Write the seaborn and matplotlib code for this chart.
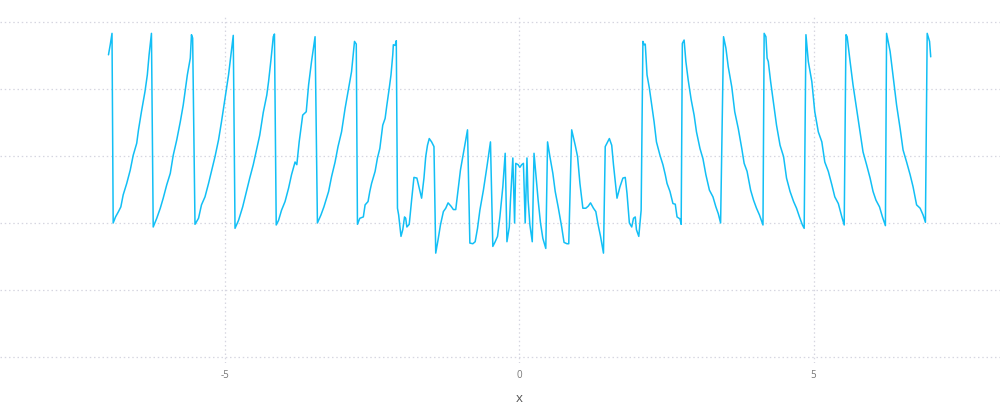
import matplotlib
matplotlib.use("Agg")
import matplotlib.pyplot as plt
import numpy as np
import pandas as pd
import seaborn as sns

# left sawtooth teeth
x_left = [
    -6.98, -6.95, -6.92, -6.90,
    -6.86, -6.81, -6.77, -6.73, -6.67, -6.61, -6.56, -6.50, -6.47, -6.42, -6.36, -6.32, -6.29, -6.25, -6.22,
    -6.16, -6.10, -6.05, -5.99, -5.93, -5.88, -5.82, -5.76, -5.71, -5.64, -5.59, -5.57, -5.55, -5.51,
    -5.45, -5.40, -5.34, -5.28, -5.23, -5.17, -5.11, -5.06, -5.00, -4.94, -4.90, -4.86, -4.83,
    -4.77, -4.70, -4.63, -4.58, -4.52, -4.46, -4.41, -4.35, -4.29, -4.26, -4.22, -4.18, -4.16, -4.13,
    -4.09, -4.04, -3.98, -3.92, -3.87, -3.81, -3.78, -3.74, -3.68, -3.62, -3.58, -3.53, -3.47, -3.43,
    -3.37, -3.32, -3.24, -3.19, -3.13, -3.08, -3.02, -2.96, -2.91, -2.85, -2.80, -2.77, -2.75,
    -2.71, -2.65, -2.62, -2.57, -2.54, -2.51, -2.45, -2.41, -2.37, -2.32, -2.28, -2.25, -2.21, -2.18,
    -2.15, -2.14, -2.11, -2.09, -2.07,
]
y_left = [
    2.51, 2.66, 2.83, 0.00,
    0.09, 0.17, 0.24, 0.42, 0.59, 0.79, 1.01, 1.19, 1.39, 1.66, 1.96, 2.21, 2.51, 2.83, -0.06,
    0.07, 0.22, 0.37, 0.57, 0.74, 1.01, 1.24, 1.51, 1.76, 2.21, 2.46, 2.81, 2.76, -0.02,
    0.07, 0.27, 0.39, 0.59, 0.77, 0.99, 1.24, 1.51, 1.86, 2.21, 2.51, 2.80, -0.08,
    0.04, 0.24, 0.49, 0.67, 0.87, 1.11, 1.31, 1.65, 1.91, 2.11, 2.43, 2.78, 2.82, -0.03,
    0.04, 0.19, 0.32, 0.52, 0.72, 0.91, 0.87, 1.21, 1.61, 1.66, 2.06, 2.41, 2.78, 0.00,
    0.12, 0.24, 0.47, 0.69, 0.91, 1.14, 1.36, 1.71, 1.96, 2.26, 2.71, 2.67, -0.02,
    0.07, 0.09, 0.27, 0.32, 0.47, 0.59, 0.77, 0.97, 1.11, 1.46, 1.56, 1.76, 2.01, 2.21,
    2.51, 2.66, 2.65, 2.72, 0.22,
]

# irregular middle part
x_mid = [
    -2.05, -2.01, -1.98, -1.95, -1.93, -1.91, -1.87, -1.83, -1.79, -1.74, -1.70, -1.66, -1.62, -1.59,
    -1.56, -1.53, -1.49, -1.45, -1.42, -1.38, -1.34, -1.29, -1.25, -1.21, -1.16, -1.12, -1.08, -1.04,
    -1.00, -0.96, -0.92, -0.88, -0.84, -0.79, -0.75, -0.71, -0.67, -0.61, -0.55, -0.49, -0.45, -0.41,
    -0.37, -0.33, -0.28, -0.24, -0.21, -0.17, -0.15, -0.11, -0.08, -0.06, -0.02, 0.01, 0.04, 0.07,
    0.10, 0.13, 0.15, 0.18, 0.22, 0.25, 0.28, 0.32, 0.36, 0.40, 0.45, 0.48, 0.52, 0.57, 0.61, 0.66,
    0.72, 0.76, 0.81, 0.84, 0.89, 0.95, 0.99, 1.03, 1.08, 1.13, 1.17, 1.21, 1.26, 1.30, 1.34, 1.38,
    1.43, 1.46, 1.50, 1.53, 1.57, 1.60, 1.63, 1.66, 1.71, 1.76, 1.80, 1.83, 1.87, 1.91, 1.94, 1.97,
    1.99, 2.03, 2.07,
]
y_mid = [
    0.12, -0.20, -0.10, 0.09, 0.07, -0.06, -0.02, 0.34, 0.68, 0.67, 0.52, 0.37, 0.67, 0.99,
    1.16, 1.26, 1.21, 1.14, -0.45, -0.25, -0.03, 0.17, 0.22, 0.30, 0.25, 0.20, 0.20, 0.49,
    0.79, 0.99, 1.19, 1.39, -0.30, -0.31, -0.28, -0.08, 0.19, 0.49, 0.84, 1.21, -0.35, -0.28,
    -0.20, 0.09, 0.54, 1.04, -0.28, -0.06, 0.34, 0.97, 0.00, 0.89, 0.87, 0.83, 0.87, 0.89,
    0.00, 0.97, 0.34, -0.03, -0.28, 1.04, 0.74, 0.34, 0.00, -0.23, -0.38, 1.21, 0.99, 0.74, 0.47, 0.24,
    -0.06, -0.29, -0.31, -0.31, 1.39, 1.16, 0.99, 0.59, 0.22, 0.22, 0.25, 0.30, 0.22, 0.17, -0.03, -0.20,
    -0.45, 1.14, 1.21, 1.26, 1.16, 0.87, 0.62, 0.37, 0.54, 0.67, 0.68, 0.44, 0.00, -0.06, 0.07, 0.09,
    -0.10, -0.20, 0.19,
]

# right sawtooth teeth
x_right = [
    2.10, 2.12, 2.14, 2.17, 2.21, 2.25, 2.29, 2.33, 2.39, 2.44, 2.48, 2.51, 2.56, 2.61, 2.65, 2.68, 2.73, 2.75,
    2.77, 2.80, 2.83, 2.87, 2.92, 2.97, 3.01, 3.07, 3.12, 3.17, 3.23, 3.29, 3.34, 3.38, 3.42,
    3.47, 3.51, 3.55, 3.61, 3.66, 3.72, 3.78, 3.82, 3.87, 3.93, 3.98, 4.03, 4.08, 4.14,
    4.16, 4.19, 4.21, 4.23, 4.27, 4.32, 4.37, 4.43, 4.49, 4.54, 4.60, 4.66, 4.71, 4.76, 4.81, 4.84,
    4.87, 4.91, 4.97, 5.02, 5.08, 5.14, 5.19, 5.25, 5.31, 5.36, 5.42, 5.48, 5.52,
    5.55, 5.57, 5.62, 5.67, 5.73, 5.79, 5.84, 5.90, 5.96, 6.01, 6.06, 6.12, 6.17, 6.22,
    6.24, 6.30, 6.35, 6.41, 6.47, 6.52, 6.58, 6.64, 6.69, 6.75, 6.81, 6.86, 6.90,
    6.93, 6.97, 6.99,
]
y_right = [
    2.71, 2.66, 2.67, 2.21, 2.01, 1.76, 1.51, 1.21, 1.01, 0.87, 0.72, 0.59, 0.47, 0.29, 0.28, 0.09, 0.06, -0.02,
    2.68, 2.73, 2.41, 2.13, 1.84, 1.61, 1.36, 1.11, 0.96, 0.72, 0.49, 0.39, 0.24, 0.14, 0.00,
    2.78, 2.61, 2.33, 2.03, 1.66, 1.41, 1.11, 0.89, 0.77, 0.49, 0.34, 0.22, 0.12, -0.03,
    2.83, 2.78, 2.46, 2.41, 2.11, 1.79, 1.46, 1.16, 0.99, 0.67, 0.47, 0.32, 0.22, 0.09, -0.03, -0.08,
    2.81, 2.41, 2.11, 1.66, 1.36, 1.21, 0.91, 0.77, 0.57, 0.39, 0.29, 0.09, -0.03,
    2.81, 2.78, 2.41, 2.06, 1.71, 1.36, 1.06, 0.87, 0.67, 0.47, 0.34, 0.24, 0.09, -0.04,
    2.83, 2.56, 2.19, 1.76, 1.41, 1.09, 0.91, 0.72, 0.54, 0.27, 0.22, 0.12, 0.01,
    2.83, 2.71, 2.48,
]

x_ticks = [-5, 0, 5]
y_grid = [-2, -1, 0, 1, 2, 3]

df = pd.DataFrame({
    "x": x_left + x_mid + x_right,
    "y": y_left + y_mid + y_right,
})
df["order"] = np.arange(len(df))

sns.set_theme(style="white")
plt.rcParams["font.family"] = ["Open Sans", "DejaVu Sans"]
plt.rcParams["axes.unicode_minus"] = False

fig = plt.figure(figsize=(10, 4.2), dpi=100)
ax = fig.add_axes([0, 57 / 420, 1, 348 / 420])

sns.lineplot(data=df, x="x", y="y", sort=False, estimator=None, color="#12bff5", linewidth=1.1, ax=ax)

ax.set_xlim(-8.823, 8.167)
ax.set_ylim(-2.09, 3.104)
ax.set_xticks(x_ticks)
ax.set_xticklabels([str(t) for t in x_ticks])
ax.set_yticks(y_grid)
ax.set_yticklabels([])
ax.grid(True, color="#d6d6e0", linestyle=(0, (1.2, 2.2)), linewidth=0.9)
ax.tick_params(axis="both", length=0)
ax.tick_params(axis="x", labelsize=7, labelcolor="#777777", pad=5)
for spine in ax.spines.values():
    spine.set_visible(False)
ax.set_xlabel("x", fontsize=9.5, color="#555555", labelpad=8)
# label sits under x = 0, not the axes centre
ax.xaxis.label.set_x(0.5193)
ax.set_ylabel("")

fig.savefig("out.png", dpi=100)
